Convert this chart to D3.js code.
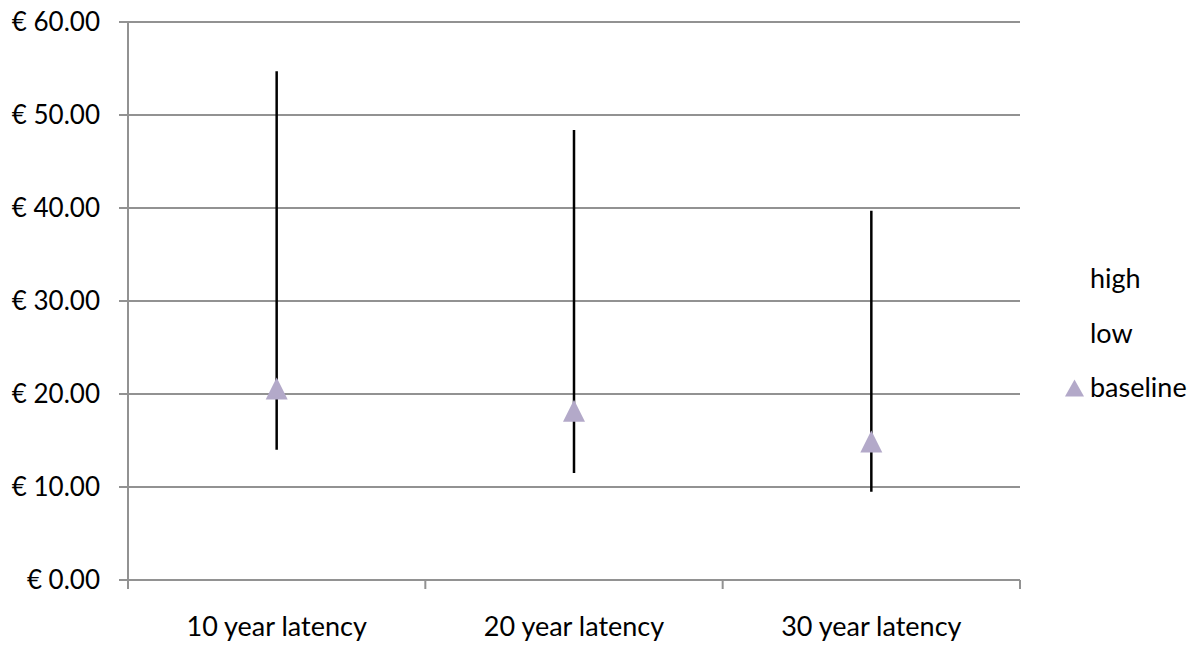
<!DOCTYPE html>
<html>
<head>
<meta charset="utf-8">
<script src="https://cdn.jsdelivr.net/npm/d3@7"></script>
<style>
  html, body { margin: 0; padding: 0; background: #fff; }
  svg { display: block; }
  text { font-family: Lato, "Open Sans", sans-serif; fill: #000; }
</style>
</head>
<body>
<svg id="chart" width="1200" height="654"></svg>
<script>
const categories = ["10 year latency", "20 year latency", "30 year latency"];
const high = [54.7, 48.4, 39.7];
const low = [14.0, 11.5, 9.5];
const baseline = [20.6, 18.2, 14.9];
const yTicks = [0, 10, 20, 30, 40, 50, 60];
const legendItems = ["high", "low", "baseline"];

(function () {
const svg = d3.select("#chart");
const plotLeft = 128, plotRight = 1020, plotTop = 22, plotBottom = 580;
const yFont = 26, catFont = 27;

const x = d3.scaleBand().domain(categories).range([plotLeft, plotRight]).paddingInner(0).paddingOuter(0);
const y = d3.scaleLinear().domain([0, 60]).range([plotBottom, plotTop]);

const gridColor = "#929292";

svg.append("g").selectAll("line").data(yTicks).join("line")
  .attr("x1", plotLeft - 9).attr("x2", plotRight)
  .attr("y1", d => y(d)).attr("y2", d => y(d))
  .attr("stroke", gridColor).attr("stroke-width", 2);

svg.append("line")
  .attr("x1", plotLeft).attr("x2", plotLeft).attr("y1", y(60)).attr("y2", plotBottom + 9)
  .attr("stroke", gridColor).attr("stroke-width", 2);

const bounds = categories.map(c => x(c) + x.bandwidth());
svg.append("g").selectAll("line").data(bounds).join("line")
  .attr("x1", d => d).attr("x2", d => d).attr("y1", plotBottom).attr("y2", plotBottom + 9)
  .attr("stroke", gridColor).attr("stroke-width", 2);

svg.append("g").selectAll("text").data(yTicks).join("text")
  .attr("x", 100).attr("y", d => y(d)).attr("dy", "0.35em")
  .attr("text-anchor", "end").attr("font-size", yFont)
  .text(d => "€ " + d3.format(".2f")(d));

svg.append("g").selectAll("text").data(categories).join("text")
  .attr("x", d => x(d) + x.bandwidth() / 2).attr("y", 636)
  .attr("text-anchor", "middle").attr("font-size", catFont)
  .text(d => d);

svg.append("g").selectAll("line").data(categories).join("line")
  .attr("x1", d => x(d) + x.bandwidth() / 2).attr("x2", d => x(d) + x.bandwidth() / 2)
  .attr("y1", (d, i) => y(high[i])).attr("y2", (d, i) => y(low[i]))
  .attr("stroke", "#000").attr("stroke-width", 2.5);

const tri = (w, h) => `M0,${-h/2}L${w/2},${h/2}L${-w/2},${h/2}Z`;
const markerColor = "#b3a9c9";
svg.append("g").selectAll("path").data(categories).join("path")
  .attr("transform", (d, i) => `translate(${x(d) + x.bandwidth() / 2},${y(baseline[i])})`)
  .attr("d", tri(22, 22))
  .attr("fill", markerColor);

const legendY = [279, 334, 388];
const lg = svg.append("g");
lg.selectAll("text").data(legendItems).join("text")
  .attr("x", 1090).attr("y", (d, i) => legendY[i]).attr("dy", "0.35em")
  .attr("font-size", catFont).text(d => d);
lg.append("path")
  .attr("transform", `translate(1074.5,${legendY[2]})`)
  .attr("d", tri(19, 17)).attr("fill", markerColor);
})();
</script>
</body>
</html>
